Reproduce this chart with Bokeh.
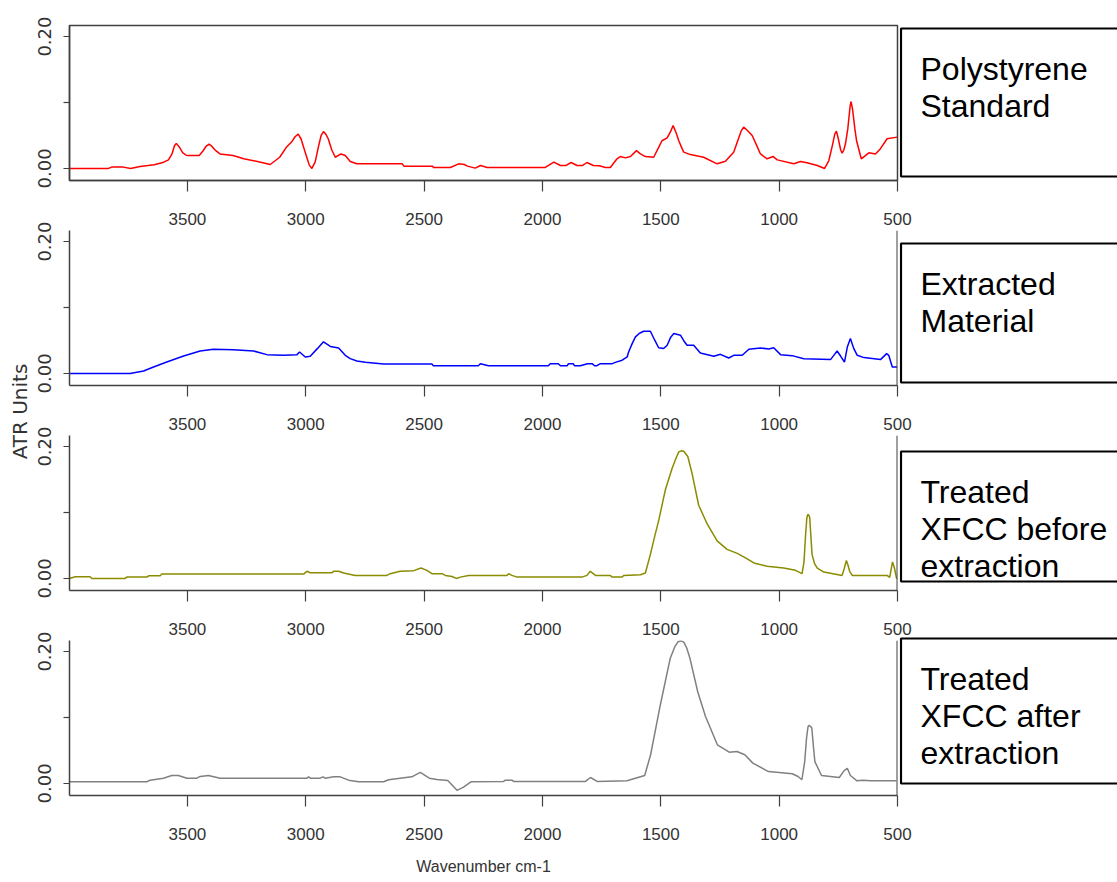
import numpy as np
from bokeh.plotting import figure
from bokeh.models import Range1d, FixedTicker, PrintfTickFormatter, Span
from bokeh.layouts import column, row
from bokeh.embed import file_html
from bokeh.resources import INLINE
from bokeh.core.properties import value

# ---------------- data ----------------
PANEL_LABELS = [["Polystyrene", "Standard"],
                ["Extracted", "Material"],
                ["Treated", "XFCC before", "extraction"],
                ["Treated", "XFCC after", "extraction"]]
X_LABEL = "Wavenumber cm-1"
Y_LABEL = "ATR Units"
X_TICKS = [3500, 3000, 2500, 2000, 1500, 1000, 500]
Y_TICKS = [0.0, 0.2]
Y_MINOR_TICKS = [0.1]

# Polystyrene standard (red)
wn_ps = [3998, 3833, 3820, 3770, 3740, 3700, 3640, 3600, 3580, 3565, 3555, 3547, 3535, 3520, 3505, 3497,
         3450, 3435, 3420, 3408, 3395, 3380, 3362, 3307, 3262, 3190, 3150, 3110, 3082, 3060, 3045, 3032,
         3020, 3000, 2985, 2974, 2960, 2945, 2935, 2925, 2915, 2905, 2890, 2875, 2851, 2833, 2812, 2784,
         2593, 2585, 2464, 2461, 2389, 2354, 2330, 2317, 2284, 2262, 2233, 1988, 1952, 1924, 1900, 1879,
         1854, 1830, 1812, 1785, 1760, 1734, 1713, 1685, 1671, 1650, 1628, 1603, 1586, 1565, 1530, 1509,
         1495, 1473, 1460, 1448, 1436, 1424, 1410, 1403, 1375, 1319, 1262, 1227, 1192, 1175, 1160, 1150,
         1135, 1114, 1095, 1079, 1051, 1025, 1008, 938, 910, 882, 839, 808, 790, 775, 765, 758, 750, 740,
         734, 727, 720, 710, 700, 696, 690, 680, 673, 653, 621, 593, 572, 544, 501]
ab_ps = [0.000, 0.000, 0.002, 0.002, 0.000, 0.003, 0.0056, 0.0095, 0.013, 0.022, 0.034, 0.038, 0.033,
         0.024, 0.020, 0.0197, 0.0197, 0.026, 0.034, 0.037, 0.033, 0.027, 0.022, 0.0197, 0.0147, 0.0095,
         0.006, 0.017, 0.032, 0.040, 0.048, 0.052, 0.045, 0.022, 0.005, 0.000, 0.010, 0.035, 0.050, 0.056,
         0.052, 0.045, 0.028, 0.017, 0.022, 0.0197, 0.0106, 0.007, 0.007, 0.0035, 0.0035, 0.0015, 0.0015,
         0.007, 0.006, 0.0035, 0.0005, 0.0045, 0.0015, 0.0015, 0.0096, 0.0045, 0.0045, 0.009, 0.0045,
         0.0045, 0.009, 0.0045, 0.004, 0.0015, 0.0015, 0.0146, 0.018, 0.016, 0.018, 0.027, 0.022, 0.018,
         0.017, 0.032, 0.042, 0.0465, 0.055, 0.065, 0.055, 0.042, 0.030, 0.0247, 0.021, 0.017, 0.007, 0.011,
         0.0247, 0.042, 0.057, 0.0626, 0.058, 0.050, 0.035, 0.022, 0.0146, 0.018, 0.013, 0.007, 0.0106,
         0.0086, 0.0045, 0.000, 0.012, 0.035, 0.052, 0.0565, 0.045, 0.028, 0.023, 0.028, 0.037, 0.060, 0.095,
         0.1015, 0.090, 0.060, 0.042, 0.0146, 0.0237, 0.022, 0.030, 0.045, 0.0475]

# Extracted material (blue)
wn_ex = [3998, 3742, 3685, 3643, 3587, 3516, 3446, 3390, 3305, 3220, 3164, 3094, 3037, 3026, 3002, 2981,
         2950, 2925, 2896, 2861, 2833, 2812, 2784, 2748, 2671, 2467, 2461, 2271, 2262, 2228, 1975, 1967,
         1933, 1924, 1895, 1890, 1870, 1865, 1840, 1810, 1790, 1780, 1770, 1755, 1705, 1692, 1663, 1642,
         1636, 1620, 1607, 1590, 1572, 1544, 1525, 1509, 1488, 1473, 1458, 1445, 1417, 1400, 1389, 1361,
         1333, 1276, 1248, 1213, 1192, 1156, 1128, 1079, 1044, 1023, 994, 945, 896, 783, 770, 755, 740,
         724, 712, 699, 685, 670, 642, 572, 546, 537, 522, 501]
ab_ex = [0.0, 0.0, 0.0036, 0.0097, 0.0173, 0.0265, 0.034, 0.0367, 0.036, 0.034, 0.0285, 0.0275, 0.0285,
         0.0326, 0.025, 0.026, 0.038, 0.048, 0.041, 0.0387, 0.0275, 0.0224, 0.0188, 0.0168, 0.0142, 0.0142,
         0.0117, 0.0117, 0.0148, 0.0117, 0.0117, 0.0148, 0.0148, 0.0117, 0.0117, 0.0148, 0.0148, 0.0117,
         0.0117, 0.0148, 0.0148, 0.0117, 0.0117, 0.0148, 0.0148, 0.0168, 0.020, 0.025, 0.0326, 0.046,
         0.0555, 0.061, 0.064, 0.064, 0.050, 0.039, 0.0377, 0.0428, 0.055, 0.0606, 0.058, 0.048, 0.0428,
         0.0428, 0.031, 0.026, 0.029, 0.0234, 0.0275, 0.0275, 0.0367, 0.0387, 0.037, 0.039, 0.0285, 0.027,
         0.0224, 0.021, 0.027, 0.034, 0.026, 0.0173, 0.040, 0.053, 0.038, 0.0275, 0.024, 0.021, 0.030,
         0.0275, 0.0097, 0.0097]

# Treated XFCC before extraction (olive)
wn_bf = [3998, 3974, 3911, 3904, 3763, 3756, 3671, 3664, 3615, 3608, 3009, 2995, 2981, 2889, 2882, 2861,
         2840, 2791, 2657, 2643, 2601, 2544, 2513, 2488, 2467, 2424, 2410, 2382, 2364, 2347, 2312, 2150,
         2143, 2129, 2107, 1833, 1812, 1798, 1776, 1713, 1706, 1663, 1657, 1586, 1565, 1544, 1525, 1509,
         1481, 1452, 1435, 1424, 1414, 1403, 1386, 1368, 1340, 1304, 1262, 1220, 1177, 1142, 1107, 1051,
         981, 931, 903, 895, 889, 883, 879, 875, 871, 866, 861, 850, 839, 811, 734, 725, 716, 709, 702, 691,
         544, 533, 521, 513, 504, 501]
ab_bf = [0.0, 0.0026, 0.0026, 0.0, 0.0, 0.002, 0.002, 0.004, 0.004, 0.0066, 0.0066, 0.0108, 0.0087, 0.0087,
         0.0108, 0.0108, 0.0082, 0.0046, 0.0046, 0.0072, 0.0108, 0.0118, 0.0158, 0.0123, 0.0072, 0.0072,
         0.0046, 0.003, 0.0, 0.002, 0.0046, 0.0046, 0.0072, 0.0046, 0.002, 0.002, 0.0046, 0.0108, 0.0046,
         0.0046, 0.002, 0.002, 0.0046, 0.0057, 0.0082, 0.0365, 0.065, 0.0877, 0.134, 0.167, 0.183, 0.192,
         0.1935, 0.1928, 0.185, 0.1595, 0.111, 0.0826, 0.057, 0.0441, 0.038, 0.0312, 0.0235, 0.0185, 0.0158,
         0.0123, 0.0072, 0.025, 0.062, 0.092, 0.097, 0.096, 0.0928, 0.065, 0.0365, 0.022, 0.0158, 0.0097,
         0.0046, 0.015, 0.0272, 0.020, 0.0108, 0.0046, 0.0046, 0.0015, 0.025, 0.0158, 0.0, 0.001]

# Treated XFCC after extraction (grey)
wn_af = [3998, 3671, 3657, 3601, 3566, 3538, 3502, 3460, 3446, 3411, 3362, 2995, 2988, 2981, 2939, 2927,
         2918, 2882, 2854, 2819, 2777, 2671, 2650, 2601, 2552, 2516, 2478, 2446, 2400, 2361, 2335, 2302,
         2164, 2157, 2129, 2122, 1818, 1797, 1769, 1643, 1568, 1543, 1502, 1460, 1440, 1427, 1415, 1402,
         1390, 1377, 1344, 1311, 1261, 1211, 1178, 1145, 1111, 1045, 945, 920, 904, 892, 884, 878, 874,
         866, 862, 855, 849, 821, 746, 726, 712, 699, 671, 646, 613, 505]
ab_af = [0.0026, 0.0026, 0.005, 0.008, 0.012, 0.012, 0.008, 0.008, 0.0106, 0.012, 0.008, 0.008, 0.010,
         0.008, 0.008, 0.010, 0.008, 0.010, 0.010, 0.005, 0.0026, 0.0026, 0.0056, 0.008, 0.010, 0.0167,
         0.008, 0.006, 0.0045, -0.0105, -0.006, 0.0025, 0.003, 0.005, 0.005, 0.003, 0.003, 0.009, 0.003,
         0.004, 0.012, 0.0435, 0.119, 0.19, 0.208, 0.215, 0.2165, 0.214, 0.205, 0.19, 0.139, 0.1015, 0.0586,
         0.0474, 0.0485, 0.0435, 0.0308, 0.018, 0.0147, 0.0106, 0.0056, 0.033, 0.070, 0.086, 0.088, 0.086,
         0.084, 0.055, 0.033, 0.012, 0.009, 0.019, 0.023, 0.012, 0.004, 0.005, 0.004, 0.004]

SERIES = [(wn_ps, ab_ps), (wn_ex, ab_ex), (wn_bf, ab_bf), (wn_af, ab_af)]

# ---------------- styles / layout ----------------
COLORS = ["#FF0000", "#0000FF", "#8B8B00", "#808080"]
AXIS_COLOR = "#404040"
TICK_FONT = "Liberation Sans"
BOX_TOP = [28, 243, 451, 638]
BOX_BOTTOM = [176, 382, 581, 783]

panels = []
for i, (wn, ab) in enumerate(SERIES):
    last = (i == 3)
    h = 267 if last else 234
    p = figure(width=885, height=h, x_range=Range1d(3998, 500), y_range=Range1d(-0.0183, 0.2168),
               output_backend="svg", toolbar_location=None,
               min_border_left=35, min_border_right=22, min_border_top=25,
               min_border_bottom=(87 if last else 54))
    p.line(wn, ab, line_color=COLORS[i], line_width=1.5)
    p.grid.visible = False
    p.border_fill_color = None
    p.background_fill_color = None
    if i == 0:
        p.outline_line_color = AXIS_COLOR
        p.outline_line_width = 1.5
    else:
        p.outline_line_color = None
        p.add_layout(Span(location=500, dimension="height", line_color=AXIS_COLOR, line_width=2))
        p.margin = (-29, 0, 0, 0)

    xa = p.xaxis[0]
    xa.ticker = FixedTicker(ticks=X_TICKS)
    xa.axis_line_color = AXIS_COLOR
    xa.axis_line_width = 1.5
    xa.major_tick_line_color = AXIS_COLOR
    xa.major_tick_line_width = 1.2
    xa.major_tick_out = 11
    xa.major_tick_in = 0
    xa.minor_tick_line_color = None
    xa.major_label_standoff = 21
    xa.major_label_text_font = TICK_FONT
    xa.major_label_text_font_size = "17px"
    xa.major_label_text_color = "#333333"

    ya = p.yaxis[0]
    ya.ticker = FixedTicker(ticks=Y_TICKS, minor_ticks=Y_MINOR_TICKS)
    ya.formatter = PrintfTickFormatter(format="%.2f")
    ya.major_label_orientation = "vertical"
    ya.axis_line_color = AXIS_COLOR
    ya.axis_line_width = 1.5
    ya.major_tick_line_color = AXIS_COLOR
    ya.minor_tick_line_color = AXIS_COLOR
    ya.major_tick_line_width = 1.2
    ya.minor_tick_line_width = 1.2
    ya.major_tick_out = 6
    ya.major_tick_in = 0
    ya.minor_tick_out = 6
    ya.minor_tick_in = 0
    ya.major_label_standoff = 12
    ya.major_label_text_font = "DejaVu Sans"
    ya.major_label_text_font_size = "18px"
    ya.major_label_text_color = "#333333"

    if last:
        xa.axis_label = X_LABEL
        xa.axis_label_text_font = TICK_FONT
        xa.axis_label_text_font_size = "16px"
        xa.axis_label_text_font_style = "normal"
        xa.axis_label_text_color = "#333333"
        xa.axis_label_standoff = 15
    panels.append(p)

# left strip with the shared y label
left = figure(width=34, height=882, x_range=Range1d(0, 34), y_range=Range1d(882, 0),
              output_backend="svg", toolbar_location=None, min_border=0,
              x_axis_type=None, y_axis_type=None)
left.grid.visible = False
left.outline_line_color = None
left.text(x=[19], y=[411], text=[Y_LABEL], angle=np.pi / 2, text_align="center",
          text_baseline="middle", text_font=value("DejaVu Sans"), text_font_size="20px",
          text_color="#333333")

# right strip with the panel label boxes (overlaps the plot column by 20 px)
lg = figure(width=218, height=882, x_range=Range1d(0, 218), y_range=Range1d(882, 0),
            output_backend="svg", toolbar_location=None, min_border=0,
            x_axis_type=None, y_axis_type=None)
lg.grid.visible = False
lg.outline_line_color = None
lg.border_fill_color = None
lg.background_fill_color = None
lg.margin = (0, 0, 0, -20)
lg.quad(left=[1.5] * 4, right=[300] * 4, top=BOX_TOP, bottom=BOX_BOTTOM,
        fill_color=None, line_color="black", line_width=2.2)
tx, ty, tt = [], [], []
for k, lines in enumerate(PANEL_LABELS):
    for j, s in enumerate(lines):
        tx.append(21)
        ty.append(BOX_TOP[k] + 40 + 37 * j)
        tt.append(s)
lg.text(x=tx, y=ty, text=tt, text_font=value("Liberation Sans"), text_font_size="32px",
        text_baseline="alphabetic", text_align="left", text_color="black")

layout = row(left, column(*panels), lg)
open("out.html", "w").write(file_html(layout, INLINE))
